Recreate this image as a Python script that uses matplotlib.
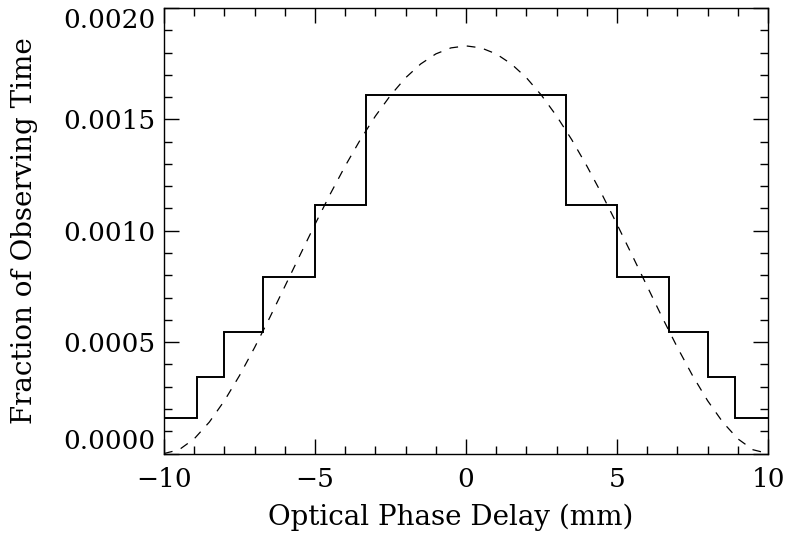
import matplotlib
matplotlib.use('Agg')
import matplotlib.pyplot as plt
from matplotlib.ticker import MultipleLocator
import numpy as np

# step histogram: bin edges (mm) and fraction per bin
step_edges = [-10.0, -8.91, -8.0, -6.71, -5.0, -3.32, 3.32, 5.0, 6.71, 8.0, 8.91, 10.0]
step_frac = [0.000161, 0.000343, 0.000546, 0.000791, 0.001117, 0.001608,
             0.001117, 0.000791, 0.000546, 0.000343, 0.000161]

# dashed curve
curve_x = [-10.0, -9.5, -9.0, -8.5, -8.0, -7.5, -7.0, -6.5, -6.0, -5.5, -5.0,
           -4.5, -4.0, -3.5, -3.0, -2.5, -2.0, -1.5, -1.0, -0.5, 0.0,
           0.5, 1.0, 1.5, 2.0, 2.5, 3.0, 3.5, 4.0, 4.5, 5.0,
           5.5, 6.0, 6.5, 7.0, 7.5, 8.0, 8.5, 9.0, 9.5, 10.0]
curve_y = [0.0, 0.000017, 0.000066, 0.000141, 0.000237, 0.000350, 0.000476,
           0.000610, 0.000750, 0.000890, 0.001029, 0.001164, 0.001291,
           0.001409, 0.001515, 0.001608, 0.001687, 0.001749, 0.001794,
           0.001821, 0.001830, 0.001821, 0.001794, 0.001749, 0.001687,
           0.001608, 0.001515, 0.001409, 0.001291, 0.001164, 0.001029,
           0.000890, 0.000750, 0.000610, 0.000476, 0.000350, 0.000237,
           0.000141, 0.000066, 0.000017, 0.0]

plt.rcParams['font.family'] = 'DejaVu Serif'

fig = plt.figure(figsize=(7.87, 5.35), dpi=100)
ax = fig.add_axes([0.2084, 0.1523, 0.7675, 0.8327])

ax.stairs(step_frac, step_edges, color='black', lw=1.4, baseline=None)
ax.plot(curve_x, curve_y, color='black', lw=0.9, dashes=(7, 7))

ax.set_xlim(-10, 10)
ax.set_ylim(0, 0.0020)
ax.xaxis.set_major_locator(MultipleLocator(5))
ax.xaxis.set_minor_locator(MultipleLocator(1))
ax.yaxis.set_major_locator(MultipleLocator(0.0005))
ax.yaxis.set_minor_locator(MultipleLocator(0.0001))
ax.yaxis.set_major_formatter(plt.FuncFormatter(lambda v, p: f'{v:.4f}'))

ax.tick_params(which='both', direction='in', top=True, right=True, width=1, colors='black')
ax.tick_params(which='major', length=11, labelsize=19)
ax.tick_params(which='minor', length=6)
ax.tick_params(axis='x', which='major', pad=10)
ax.tick_params(axis='y', which='major', pad=6)
for s in ax.spines.values():
    s.set_linewidth(1)

ax.set_xlabel('Optical Phase Delay (mm)', fontsize=20)
ax.set_ylabel('Fraction of Observing Time', fontsize=20)
ax.xaxis.set_label_coords(0.475, -0.112)
ax.yaxis.set_label_coords(-0.208, 0.5)

# end labels sit inside the axis range like the original
fig.canvas.draw()
for tick, loc in zip(ax.yaxis.get_major_ticks(), ax.yaxis.get_majorticklocs()):
    if abs(loc) < 1e-9:
        tick.label1.set_va('bottom')
    elif abs(loc - 0.0020) < 1e-9:
        tick.label1.set_va('top')

fig.savefig('out.png', dpi=100)
